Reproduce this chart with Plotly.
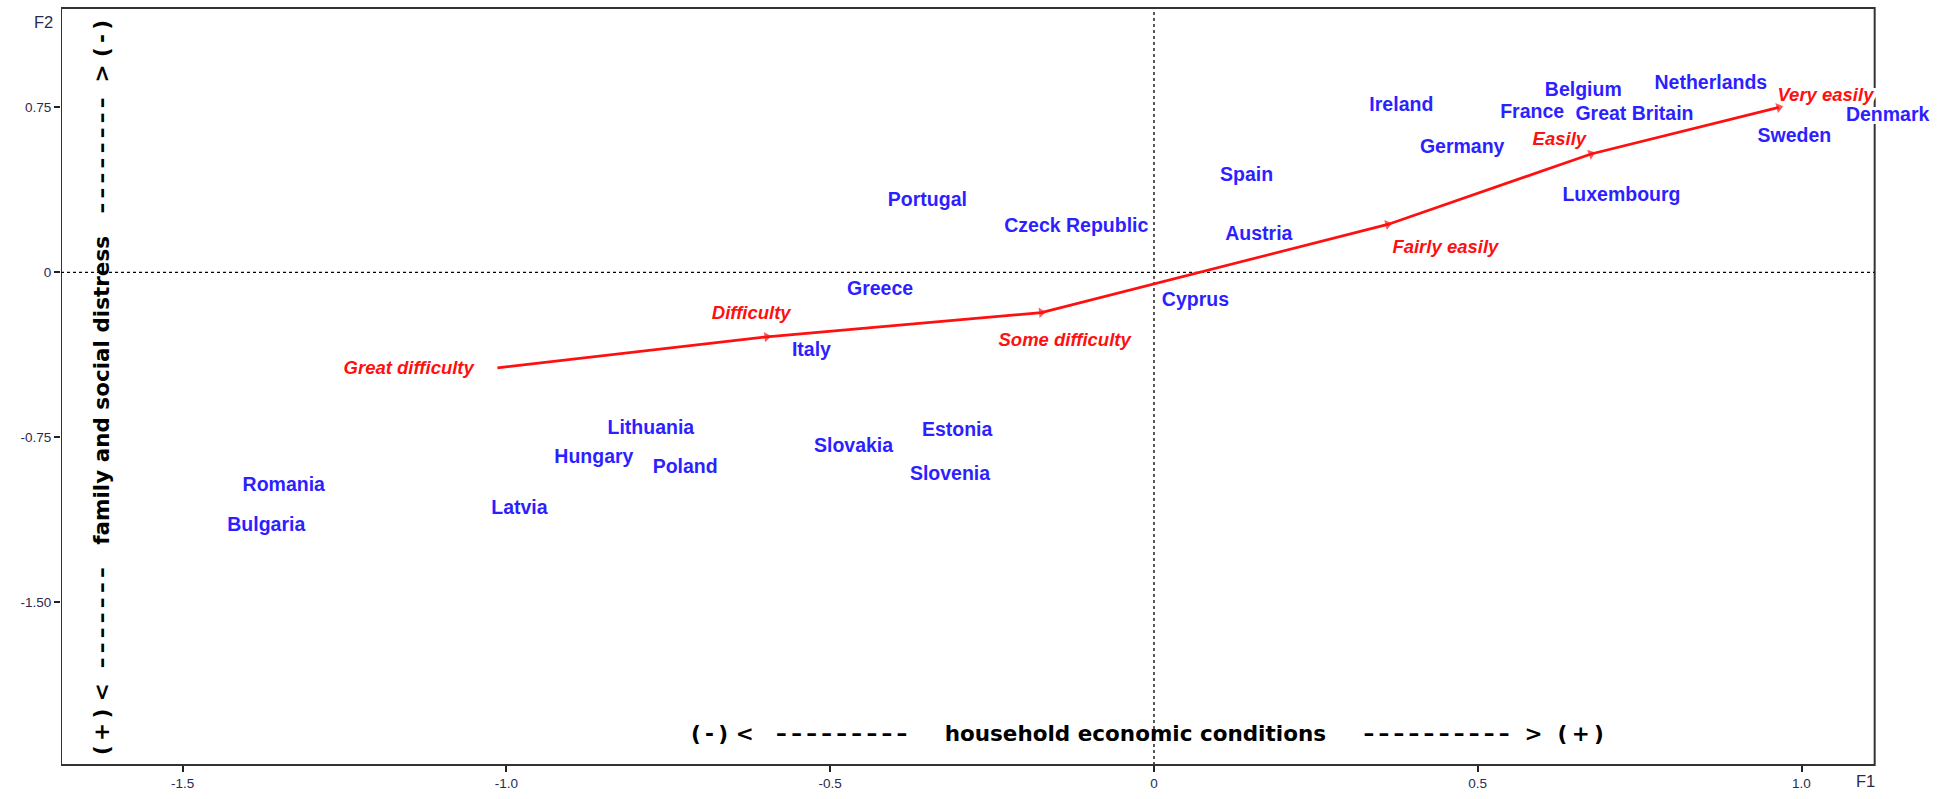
import plotly.graph_objects as go

# ---- data ----
countries = ["Ireland", "Germany", "France", "Belgium", "Great Britain", "Netherlands",
             "Denmark", "Sweden", "Luxembourg", "Spain", "Austria", "Cyprus",
             "Czeck Republic", "Portugal", "Greece", "Italy", "Lithuania", "Hungary",
             "Poland", "Slovakia", "Estonia", "Slovenia", "Latvia", "Romania", "Bulgaria"]
country_f1 = [0.382, 0.476, 0.584, 0.663, 0.742, 0.860,
              1.133, 0.989, 0.722, 0.143, 0.162, 0.064,
              -0.120, -0.350, -0.423, -0.529, -0.777, -0.865,
              -0.724, -0.464, -0.304, -0.315, -0.980, -1.344, -1.371]
country_f2 = [0.755, 0.567, 0.726, 0.823, 0.714, 0.856,
              0.710, 0.616, 0.348, 0.436, 0.171, -0.129,
              0.204, 0.325, -0.083, -0.359, -0.712, -0.843,
              -0.888, -0.795, -0.722, -0.922, -1.077, -0.972, -1.152]

categories = ["Great difficulty", "Difficulty", "Some difficulty",
              "Fairly easily", "Easily", "Very easily"]
cat_f1 = [-1.014, -0.598, -0.174, 0.361, 0.675, 0.965]
cat_f2 = [-0.434, -0.293, -0.183, 0.218, 0.538, 0.750]
cat_label_f1 = [-1.151, -0.622, -0.138, 0.450, 0.626, 1.037]
cat_label_f2 = [-0.442, -0.193, -0.314, 0.109, 0.601, 0.802]

x_ticks = [-1.5, -1.0, -0.5, 0, 0.5, 1.0]
x_tick_text = ["-1.5", "-1.0", "-0.5", "0", "0.5", "1.0"]
y_ticks = [0.75, 0, -0.75, -1.5]
y_tick_text = ["0.75", "0", "-0.75", "-1.50"]
frame_x = [-1.688, 1.113]      # framed plotting region (F1)
x_range = [-1.688, 1.200]      # axis range (wider so labels past the frame still show)
y_range = [-2.240, 1.202]

BLUE = "#2d1fff"
RED = "#ff1010"
FRAME = "#333333"
LABEL_FONT = "Liberation Sans, Arial, sans-serif"
TITLE_FONT = "DejaVu Sans, Noto Sans, sans-serif"
HALO = ", ".join("%dpx %dpx 0 white" % (dx, dy)
                 for dx in (-3, -2, 0, 2, 3) for dy in (-3, -2, 0, 2, 3) if (dx, dy) != (0, 0))

fig = go.Figure()

# country labels
fig.add_trace(go.Scatter(
    x=country_f1, y=country_f2, mode="text", text=countries,
    textposition="middle center", cliponaxis=False,
    textfont=dict(family=LABEL_FONT, size=19.5, color=BLUE, weight="bold", shadow=HALO),
    hoverinfo="text", showlegend=False,
))
# category labels
fig.add_trace(go.Scatter(
    x=cat_label_f1, y=cat_label_f2, mode="text", text=categories,
    textposition="middle center", cliponaxis=False,
    textfont=dict(family=LABEL_FONT, size=18.5, color=RED, weight="bold",
                  style="italic", shadow=HALO),
    hoverinfo="text", showlegend=False,
))
# red trajectory with arrowheads
fig.add_trace(go.Scatter(
    x=cat_f1, y=cat_f2, mode="lines+markers",
    line=dict(color=RED, width=2.7),
    marker=dict(symbol="triangle-up", angleref="previous", color=RED,
                size=[0] + [9] * (len(cat_f1) - 1), line=dict(width=0)),
    hoverinfo="skip", showlegend=False,
))

NB = "\u00a0"
TS = "\u2009"


def dashes(n):
    return TS.join(["\u2013"] * n)


h_title = ("(" + TS + "-" + TS + ")" + NB + "&lt;" + NB * 3 + dashes(9) + NB * 5 +
           "household economic conditions" + NB * 5 + dashes(10) + NB * 2 +
           "&gt;" + NB * 2 + "(" + TS + "+" + TS + ")")
v_title = ("(" + TS + "+" + TS + ")" + NB + "&lt;" + NB * 2 + dashes(7) + NB * 3 +
           "family and social distress" + NB * 3 + dashes(8) + NB * 2 +
           "&gt;" + NB + "(" + TS + "-" + TS + ")")

annotations = [
    dict(x=0.581, y=0.0414, xref="paper", yref="paper", showarrow=False,
         text="<b>%s</b>" % h_title,
         font=dict(family=TITLE_FONT, size=21.5, color="black"),
         xanchor="center", yanchor="middle"),
    dict(x=0.0214, y=0.498, xref="paper", yref="paper", showarrow=False, textangle=-90,
         text="<b>%s</b>" % v_title,
         font=dict(family=TITLE_FONT, size=21.5, color="black"),
         xanchor="center", yanchor="middle"),
    dict(x=0, y=1, xref="paper", yref="paper", text="F2", showarrow=False,
         xanchor="right", yanchor="middle", xshift=-6, yshift=-14,
         font=dict(family=LABEL_FONT, size=16.5, color="#2a2a50")),
    dict(x=frame_x[1], y=0, xref="x", yref="paper", text="F1", showarrow=False,
         xanchor="right", yanchor="middle", xshift=2, yshift=-16,
         font=dict(family=LABEL_FONT, size=16.5, color="#2a2a50")),
]

shapes = [
    dict(type="line", xref="x", yref="paper", x0=0, x1=0, y0=0, y1=1,
         line=dict(color="black", width=1.3, dash="3px,3px"), layer="below"),
    dict(type="line", xref="x", yref="y", x0=frame_x[0], x1=frame_x[1], y0=0, y1=0,
         line=dict(color="black", width=1.3, dash="3px,3px"), layer="below"),
    # frame around the plotting region
    dict(type="rect", xref="x", yref="paper", x0=frame_x[0], x1=frame_x[1], y0=0, y1=1,
         line=dict(color=FRAME, width=2), fillcolor="rgba(0,0,0,0)", layer="below"),
]

axis_common = dict(showgrid=False, zeroline=False, showline=False,
                   ticks="outside", ticklen=6,
                   tickcolor="#222222", tickwidth=1.5, layer="below traces",
                   tickfont=dict(family=LABEL_FONT, size=13.5, color="#2a2a50"))

per_unit = 1814 / (frame_x[1] - frame_x[0])
right_margin = 1955 - 61 - round((x_range[1] - x_range[0]) * per_unit)

fig.update_layout(
    width=1955, height=799,
    margin=dict(l=61, r=right_margin, t=8, b=32),
    plot_bgcolor="white", paper_bgcolor="white",
    xaxis=dict(range=x_range, tickvals=x_ticks, ticktext=x_tick_text, **axis_common),
    yaxis=dict(range=y_range, tickvals=y_ticks, ticktext=y_tick_text, **axis_common),
    annotations=annotations, shapes=shapes, showlegend=False,
)

fig.write_html("out.html")
